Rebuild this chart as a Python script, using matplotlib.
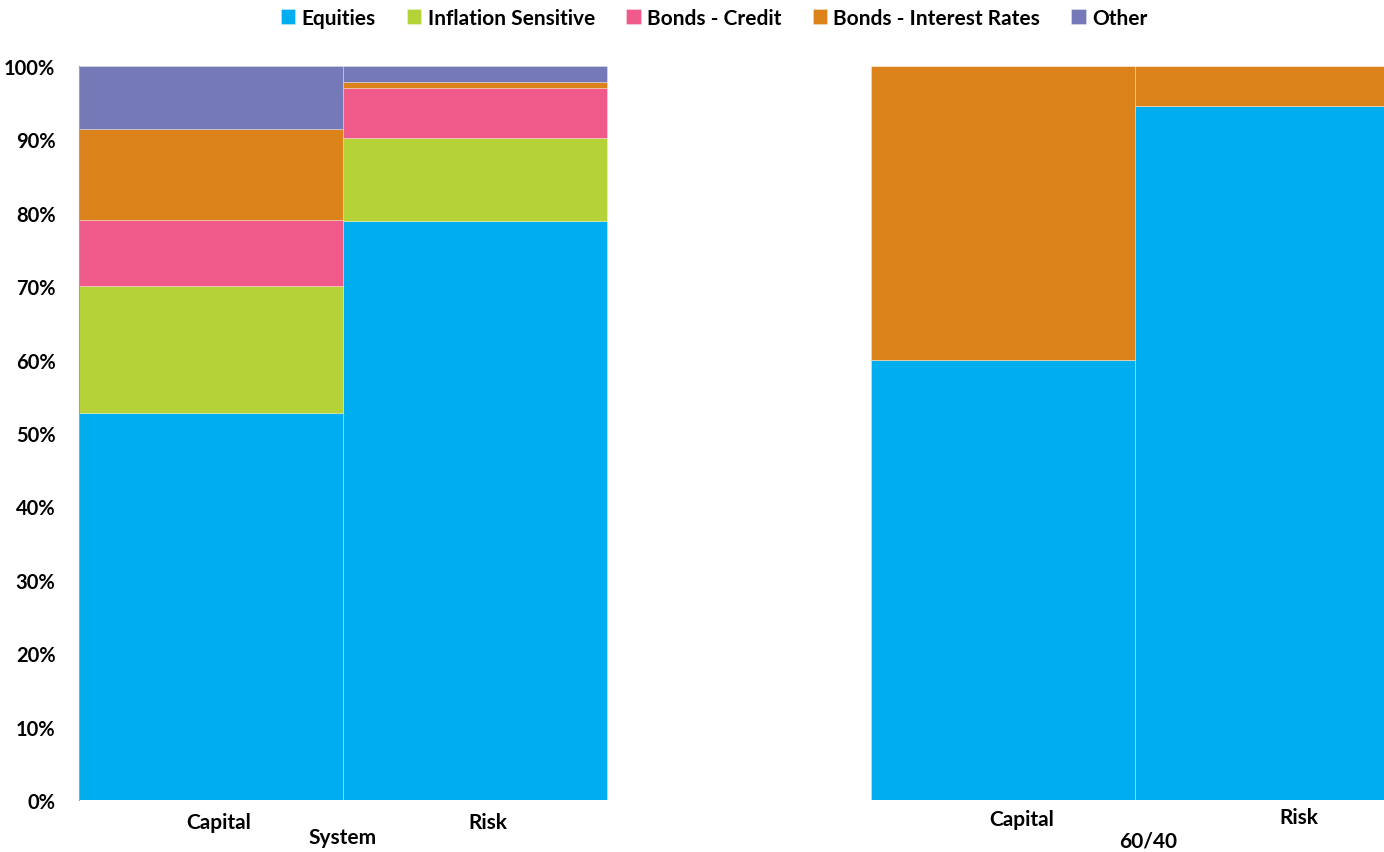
import matplotlib.pyplot as plt
import numpy as np

# data (percent of total)
groups = ["System", "60/40"]
bar_labels = ["Capital", "Risk", "Capital", "Risk"]
series = ["Equities", "Inflation Sensitive", "Bonds - Credit", "Bonds - Interest Rates", "Other"]
equities = [52.7, 78.9, 60.0, 94.6]
inflation = [17.3, 11.3, 0.0, 0.0]
credit = [9.0, 6.8, 0.0, 0.0]
rates = [12.4, 0.8, 40.0, 5.4]
other = [8.6, 2.2, 0.0, 0.0]

colors = ["#00ADEE", "#B5D336", "#F05A8A", "#DB821A", "#7679B8"]

plt.rcParams['font.family'] = ['Lato', 'DejaVu Sans']

fig = plt.figure(figsize=(13.84, 8.53), dpi=100)
ax = fig.add_axes([79 / 1384, 52 / 853, 1 - 79 / 1384, 734 / 853])

x = np.array([0, 1, 3, 4])
bottom = np.zeros(4)
for name, vals, c in zip(series, [equities, inflation, credit, rates, other], colors):
    vals = np.array(vals)
    ax.bar(x, vals, width=1.0, bottom=bottom, color=c, label=name,
           edgecolor=(1, 1, 1, 0.35), linewidth=0.6)
    bottom += vals

ax.set_xlim(-0.5, 4.443)
ax.set_ylim(0, 100)
ax.set_yticks(range(0, 101, 10))
ax.set_yticklabels([f"{v}%" for v in range(0, 101, 10)], fontsize=14.5, fontweight='bold')
ax.tick_params(axis='y', length=0, pad=17)
ax.set_xticks([])

for s in ['top', 'right', 'bottom']:
    ax.spines[s].set_visible(False)
ax.spines['left'].set_color('#a0a0a0')
ax.spines['left'].set_linewidth(0.8)

# category labels (two level axis)
tr = ax.get_xaxis_transform()
offs = [0.03, 0.05, 0.07, 0.12]
ys = [-0.03, -0.03, -0.026, -0.023]
for xi, lab, o, yy in zip(x, bar_labels, offs, ys):
    ax.text(xi + o, yy, lab, transform=tr, ha='center', va='center', fontsize=15, fontweight='bold')
ax.text(0.5, -0.051, groups[0], transform=tr, ha='center', va='center', fontsize=15, fontweight='bold')
ax.text(3.55, -0.055, groups[1], transform=tr, ha='center', va='center', fontsize=15, fontweight='bold')

fig.legend(loc='upper center', bbox_to_anchor=(0.516, 1.012), ncol=5, frameon=False,
           prop={'size': 15, 'weight': 'bold'}, handlelength=0.7, handleheight=0.7,
           handletextpad=0.3, columnspacing=1.5)

fig.savefig("out.png", dpi=100)
